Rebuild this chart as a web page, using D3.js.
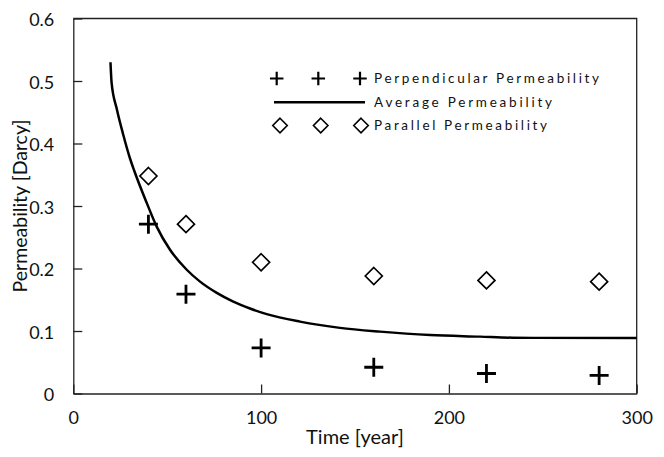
<!DOCTYPE html>
<html>
<head>
<meta charset="utf-8">
<script src="https://cdn.jsdelivr.net/npm/d3@7"></script>
<style>
  html, body { margin: 0; padding: 0; background: #fff; }
  svg { display: block; font-family: Lato, "Open Sans", sans-serif; }
</style>
</head>
<body>
<svg id="chart" width="664" height="457"></svg>
<script>
// Sampling times (years) for the measured permeabilities
const sampleYears = [40, 60, 100, 160, 220, 280];
// Perpendicular permeability, Darcy
const perpendicular = [0.271, 0.159, 0.073, 0.042, 0.032, 0.029];
// Parallel permeability, Darcy
const parallel = [0.348, 0.271, 0.210, 0.188, 0.181, 0.179];

// Average permeability curve
const avgYears = [19.8, 20.4, 23.1, 26.6, 30.2, 32.5, 39.1, 44.4, 51.5, 60.4, 67.5, 76.4, 85.2, 94.1, 103, 120.7, 142, 163.3, 190, 216.6, 234, 245, 300];
const avgPerm  = [0.530, 0.497, 0.456, 0.414, 0.376, 0.356, 0.305, 0.267, 0.230, 0.198, 0.179, 0.161, 0.147, 0.136, 0.127, 0.115, 0.105, 0.099, 0.0936, 0.091, 0.0893, 0.089, 0.089];

const xTicks = [0, 100, 200, 300];
const yTicks = [0, 0.1, 0.2, 0.3, 0.4, 0.5, 0.6];

const legendLabels = ["Perpendicular Permeability", "Average Permeability", "Parallel Permeability"];

const svg = d3.select("#chart");
const plotLeft = 73.3, plotRight = 636.7, plotTop = 18.5, plotBottom = 393.5;

const x = d3.scaleLinear().domain([0, 300]).range([plotLeft, plotRight]);
const y = d3.scaleLinear().domain([0, 0.6]).range([plotBottom, plotTop]);

const axisColor = "#222";

// Plot frame (top and right edges)
svg.append("path")
  .attr("d", `M${plotLeft},${plotTop}H${plotRight}V${plotBottom}`)
  .attr("fill", "none").attr("stroke", axisColor).attr("stroke-width", 1.3);

// X axis with inward ticks
const gx = svg.append("g").attr("transform", `translate(0,${plotBottom})`)
  .call(d3.axisBottom(x).tickValues(xTicks).tickSizeInner(-9).tickSizeOuter(0).tickPadding(18).tickFormat(d3.format("d")));
// Y axis with inward ticks
const gy = svg.append("g").attr("transform", `translate(${plotLeft},0)`)
  .call(d3.axisLeft(y).tickValues(yTicks).tickSizeInner(-9).tickSizeOuter(0).tickPadding(19)
    .tickFormat(d => d === 0 ? "0" : d3.format(".1f")(d)));

[gx, gy].forEach(g => {
  g.select(".domain").attr("stroke", axisColor).attr("stroke-width", 1.3);
  g.selectAll(".tick line").attr("stroke", axisColor).attr("stroke-width", 1.3);
  g.selectAll(".tick text").attr("fill", "#111").style("font-size", "18px").style("font-family", "Lato, sans-serif");
});
gx.selectAll(".tick text").attr("dy", "0.68em");
gy.selectAll(".tick text").attr("dy", "0.4em");

// Axis titles
svg.append("text")
  .attr("x", (plotLeft + plotRight) / 2).attr("y", 444)
  .attr("text-anchor", "middle")
  .style("font-size", "20px").attr("fill", "#111")
  .text("Time [year]");
svg.append("text")
  .attr("transform", `translate(27,${(plotTop + plotBottom) / 2}) rotate(-90)`)
  .attr("text-anchor", "middle")
  .style("font-size", "19.5px").attr("fill", "#111")
  .text("Permeability [Darcy]");

// Average permeability line
const avgData = avgYears.map((t, i) => ({ t, v: avgPerm[i] }));
svg.append("path")
  .datum(avgData)
  .attr("fill", "none").attr("stroke", "#000").attr("stroke-width", 2.5)
  .attr("d", d3.line().x(d => x(d.t)).y(d => y(d.v)).curve(d3.curveMonotoneX));

// Marker helpers
function plus(g, cx, cy, s, w) {
  g.append("path")
    .attr("d", `M${cx - s / 2},${cy}H${cx + s / 2}M${cx},${cy - s / 2}V${cy + s / 2}`)
    .attr("stroke", "#000").attr("stroke-width", w).attr("fill", "none");
}
function diamond(g, cx, cy, s, w) {
  const h = s / 2;
  g.append("path")
    .attr("d", `M${cx},${cy - h}L${cx + h},${cy}L${cx},${cy + h}L${cx - h},${cy}Z`)
    .attr("stroke", "#000").attr("stroke-width", w).attr("fill", "#fff");
}

const marks = svg.append("g");
sampleYears.forEach((t, i) => diamond(marks, x(t), y(parallel[i]), 17, 1.7));
sampleYears.forEach((t, i) => plus(marks, x(t), y(perpendicular[i]), 19, 2.8));

// Legend
const legend = svg.append("g");
const rowY = [78.5, 102.3, 125.5];
const markX = [276.7, 318.3, 360];
markX.forEach(mx => plus(legend, mx, rowY[0], 13.5, 2.2));
legend.append("line")
  .attr("x1", 274).attr("x2", 365).attr("y1", rowY[1]).attr("y2", rowY[1])
  .attr("stroke", "#000").attr("stroke-width", 2.4);
[280, 320.7, 361].forEach(mx => diamond(legend, mx, rowY[2], 14.5, 1.6));

const textEnds = [599, 552, 547];
legendLabels.forEach((label, i) => {
  legend.append("text")
    .attr("x", 374).attr("y", rowY[i] + 4.8)
    .attr("textLength", textEnds[i] - 374).attr("lengthAdjust", "spacing")
    .style("font-size", "13.5px").attr("fill", "#111")
    .text(label);
});
</script>
</body>
</html>
